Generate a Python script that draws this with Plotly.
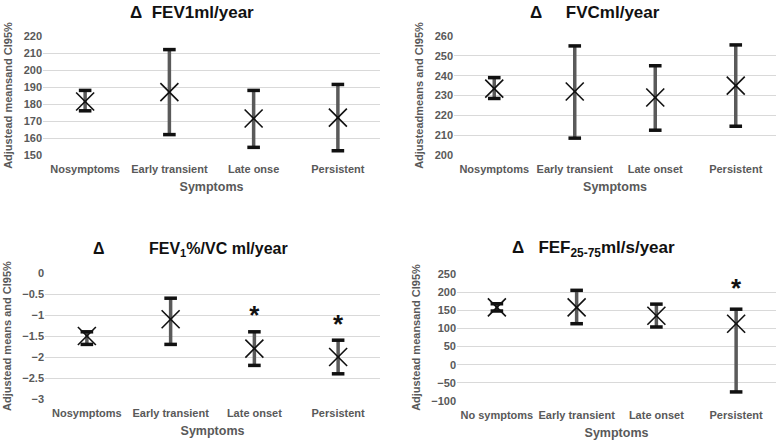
import plotly.graph_objects as go

# category labels as printed in each panel
cats_fev1 = ["Nosymptoms", "Early transient", "Late onse", "Persistent"]
cats_fvc = ["Nosymptoms", "Early transient", "Late onset", "Persistent"]
cats_ratio = ["Nosymptoms", "Early transient", "Late onset", "Persistent"]
cats_fef = ["No symptoms", "Early transient", "Late onset", "Persistent"]

# adjusted means and 95% CI
fev1_mean = [181.5, 187, 171.5, 172]
fev1_lo = [176, 162, 154.5, 152.5]
fev1_hi = [188, 212, 188, 191.5]

fvc_mean = [233.5, 232, 229, 235]
fvc_lo = [228.5, 208.5, 212.5, 214.5]
fvc_hi = [239, 255, 245, 255.5]

ratio_mean = [-1.5, -1.1, -1.8, -2.0]
ratio_lo = [-1.7, -1.7, -2.2, -2.4]
ratio_hi = [-1.4, -0.6, -1.4, -1.6]
ratio_star_cats = ["Late onset", "Persistent"]
ratio_star_y = [-1.07, -1.27]

fef_mean = [158, 158, 135, 113]
fef_lo = [148, 113, 104, -75]
fef_hi = [168, 205, 167, 153]
fef_star_cats = ["Persistent"]
fef_star_y = [205]

W, H = 778, 442
GRAY = "#595959"
FONT = "Liberation Sans, Arial, sans-serif"

panels = [
    dict(cats=cats_fev1, mean=fev1_mean, lo=fev1_lo, hi=fev1_hi, rng=[150, 220], dt=10,
         x0=43, x1=380, y0=36, y1=155, ytitle="Adjustead meansand CI95%",
         title="Δ\u00a0\u00a0FEV1ml/year", tx=192, ty=12, tsize=17, star=None),
    dict(cats=cats_fvc, mean=fvc_mean, lo=fvc_lo, hi=fvc_hi, rng=[200, 260], dt=10,
         x0=454, x1=776, y0=36, y1=155, ytitle="Adjusteadmeans and CI95%",
         title="Δ\u00a0\u00a0\u00a0\u00a0\u00a0FVCml/year", tx=595, ty=12, tsize=17, star=None),
    dict(cats=cats_ratio, mean=ratio_mean, lo=ratio_lo, hi=ratio_hi, rng=[-3, 0], dt=0.5,
         x0=45, x1=380, y0=273, y1=399, ytitle="Adjustead means and CI95%",
         title="Δ\u00a0\u00a0\u00a0\u00a0\u00a0\u00a0\u00a0\u00a0\u00a0\u00a0FEV<sub>1</sub>%/VC ml/year", tx=190, ty=249,
         tsize=16, star=(ratio_star_cats, ratio_star_y)),
    dict(cats=cats_fef, mean=fef_mean, lo=fef_lo, hi=fef_hi, rng=[-100, 250], dt=50,
         x0=457, x1=776, y0=274, y1=401, ytitle="Adjustead meansand CI95%",
         title="Δ\u00a0\u00a0\u00a0FEF<sub>25-75</sub>ml/s/year", tx=593, ty=249,
         tsize=17, star=(fef_star_cats, fef_star_y)),
]

fig = go.Figure()
annotations = []

for i, p in enumerate(panels, start=1):
    xa = "x" if i == 1 else f"x{i}"
    ya = "y" if i == 1 else f"y{i}"
    up = [h - m for h, m in zip(p["hi"], p["mean"])]
    down = [m - l for m, l in zip(p["mean"], p["lo"])]
    # CI bars
    fig.add_trace(go.Scatter(
        x=p["cats"], y=p["mean"], mode="markers", marker=dict(size=1, color="rgba(0,0,0,0)"),
        error_y=dict(type="data", symmetric=False, array=up, arrayminus=down,
                     color="#5a5a5a", thickness=3.5, width=0),
        xaxis=xa, yaxis=ya, showlegend=False, hoverinfo="skip", cliponaxis=False))
    # caps
    fig.add_trace(go.Scatter(
        x=p["cats"] + p["cats"], y=p["lo"] + p["hi"], mode="markers",
        marker=dict(symbol="line-ew", size=9, line=dict(width=3.5, color="#111111")),
        xaxis=xa, yaxis=ya, showlegend=False, hoverinfo="skip", cliponaxis=False))
    # means
    fig.add_trace(go.Scatter(
        x=p["cats"], y=p["mean"], mode="markers",
        marker=dict(symbol="x-thin", size=18, line=dict(width=1.6, color="#111111")),
        xaxis=xa, yaxis=ya, showlegend=False, cliponaxis=False))
    if p["star"]:
        fig.add_trace(go.Scatter(
            x=p["star"][0], y=p["star"][1], mode="text", text=["<b>*</b>"] * len(p["star"][0]),
            textfont=dict(size=26, color="#111111", family=FONT),
            xaxis=xa, yaxis=ya, showlegend=False, hoverinfo="skip", cliponaxis=False))

    xkey = "xaxis" if i == 1 else f"xaxis{i}"
    ykey = "yaxis" if i == 1 else f"yaxis{i}"
    fig.update_layout(**{
        xkey: dict(domain=[p["x0"] / W, p["x1"] / W], anchor=ya, type="category",
                   categoryorder="array", categoryarray=p["cats"], range=[-0.5, 3.5],
                   showgrid=False, showline=False, zeroline=False, ticks="",
                   automargin=False, ticklabelstandoff=6,
                   tickfont=dict(size=11, color=GRAY, family=FONT),
                   title=dict(text="<b>Symptoms</b>", standoff=8,
                              font=dict(size=12.5, color=GRAY, family=FONT))),
        ykey: dict(domain=[1 - p["y1"] / H, 1 - p["y0"] / H], anchor=xa,
                   range=p["rng"], dtick=p["dt"], showgrid=True, gridcolor="#d9d9d9",
                   gridwidth=1, zeroline=False, showline=False, ticks="",
                   automargin=False,
                   tickfont=dict(size=11, color=GRAY, family=FONT),
                   title=dict(text=f"<b>{p['ytitle']}</b>", standoff=8,
                              font=dict(size=11, color=GRAY, family=FONT))),
    })
    annotations.append(dict(text=f"<b>{p['title']}</b>", x=p["tx"] / W, y=1 - p["ty"] / H,
                            xref="paper", yref="paper", xanchor="center", yanchor="middle",
                            showarrow=False, font=dict(size=p["tsize"], color="#111111", family=FONT)))

fig.update_layout(
    width=W, height=H, margin=dict(l=0, r=0, t=0, b=0),
    paper_bgcolor="white", plot_bgcolor="white",
    font=dict(family=FONT, color=GRAY),
    annotations=annotations,
)
fig.update_xaxes(tickprefix="<b>", ticksuffix="</b>")
fig.update_yaxes(tickprefix="<b>", ticksuffix="</b>")

fig.write_html("out.html", config={"displayModeBar": False},
               post_script="document.body.style.margin='0';")
